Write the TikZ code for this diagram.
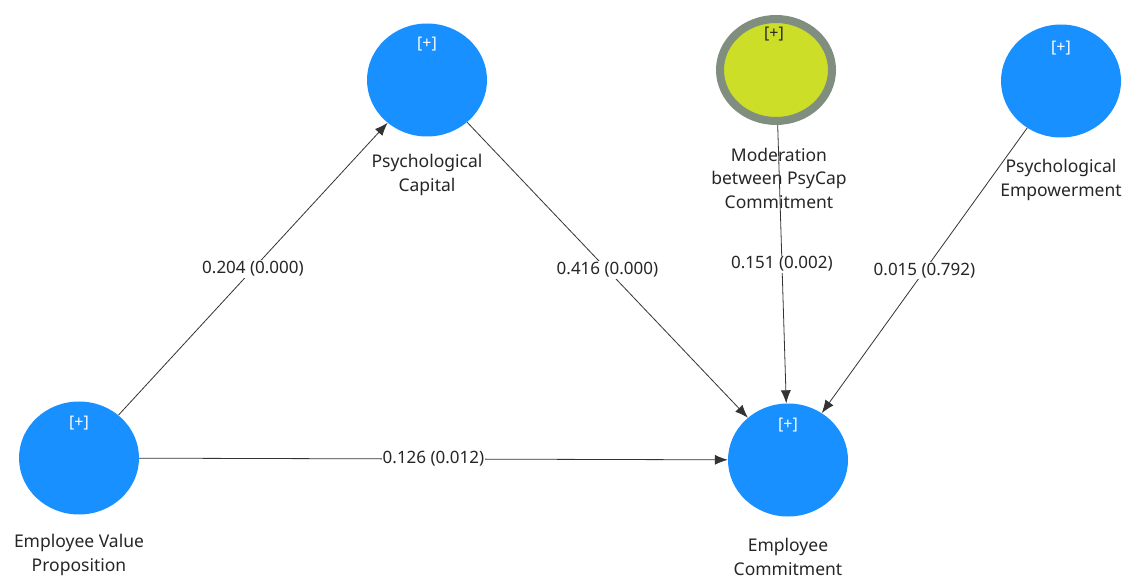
\documentclass[tikz,border=0pt]{standalone}
\usepackage{fontspec}
\setmainfont{Noto Sans}
\usetikzlibrary{shapes.geometric,arrows.meta}
\definecolor{nodeblue}{RGB}{24,144,255}
\definecolor{modfill}{RGB}{204,222,40}
\definecolor{modborder}{RGB}{128,142,128}
\begin{document}
\begin{tikzpicture}[x=1pt,y=-1pt,
  construct/.style={ellipse,fill=nodeblue,minimum width=120pt,minimum height=113pt,inner sep=0pt},
  modconstruct/.style={ellipse,fill=modfill,draw=modborder,line width=8pt,minimum width=112pt,minimum height=102pt,inner sep=0pt},
  plus/.style={font=\fontsize{16}{18}\selectfont,text=white},
  lbl/.style={font=\fontsize{17.5}{23.5}\selectfont,align=center,text=black!85},
  path/.style={draw=black!80,line width=0.8pt,-{Latex[length=13pt,width=10pt]}},
  coef/.style={fill=white,inner sep=1pt,font=\fontsize{17}{19}\selectfont,text=black!85,pos=0.5}
]
\useasboundingbox (0,0) rectangle (1128,580);
\fill[white] (0,0) rectangle (1128,580);

\node[construct] (evp) at (79,458) {};
\node[construct] (pc) at (427,80) {};
\node[modconstruct] (mod) at (776,70) {};
\node[construct] (pe) at (1061,81) {};
\node[construct] (ec) at (788,460) {};

\node[plus] (evpplus) at (79,423) {[+]};
\node[plus] (pcplus) at (427,44) {[+]};
\node[plus,text=black!85] (modplus) at (774,34) {[+]};
\node[plus] (peplus) at (1061,48) {[+]};
\node[plus] (ecplus) at (788,425) {[+]};

\node[lbl] (evplbl) at (79,555) {Employee Value\\Proposition};
\node[lbl] (pclbl) at (427,175) {Psychological\\Capital};
\node[lbl] (modlbl) at (779,178) {Moderation\\between PsyCap\\Commitment};
\node[lbl] (pelbl) at (1061,180) {Psychological\\Empowerment};
\node[lbl] (eclbl) at (788,557) {Employee\\Commitment};

\draw[path] (evp) -- node[coef] (c1) {0.204 (0.000)} (pc);
\draw[path] (pc) -- node[coef] (c2) {0.416 (0.000)} (ec);
\draw[path] (mod) -- node[coef] (c3) {0.151 (0.002)} (ec);
\draw[path] (pe) -- node[coef] (c4) {0.015 (0.792)} (ec);
\draw[path] (evp) -- node[coef] (c5) {0.126 (0.012)} (ec);
\end{tikzpicture}
\end{document}
